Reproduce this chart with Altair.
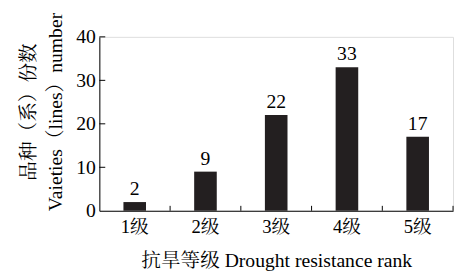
import altair as alt
import pandas as pd

categories = ["1级", "2级", "3级", "4级", "5级"]
counts = [2, 9, 22, 33, 17]
y_ticks = [0, 10, 20, 30, 40]

FONT = "Times New Roman, Liberation Serif, Noto Serif CJK SC, Noto Sans CJK SC, serif"

df = pd.DataFrame({"rank": categories, "n": counts})
tick_df = pd.DataFrame({"rank": categories[:4], "n": y_ticks[1:]})

xscale = alt.Scale(domain=categories, paddingInner=0, paddingOuter=0)
yscale = alt.Scale(domain=[0, 40])

xaxis = alt.Axis(title="抗旱等级 Drought resistance rank", labelAngle=0,
                 ticks=False, tickSize=0, labelPadding=7,
                 labelFontSize=19, titleFontSize=20,
                 titleY=51, titleBaseline="middle",
                 domainColor="black", labelColor="black", titleColor="black",
                 titleFontWeight="normal", labelFont=FONT, titleFont=FONT)
yaxis = alt.Axis(title=["品种（系）份数", "Vaieties（lines）number"],
                 values=y_ticks, ticks=False, tickSize=0, labelPadding=4,
                 grid=False, labelFontSize=20, titleFontSize=20,
                 titleLineHeight=27, titleX=-82, titleY=76,
                 titleBaseline="top", titleAngle=-90, titleAlign="center",
                 domainColor="black", labelColor="black", titleColor="black",
                 titleFontWeight="normal", labelFont=FONT, titleFont=FONT)

X = alt.X("rank:N", scale=xscale, sort=categories, axis=xaxis)
Y = alt.Y("n:Q", scale=yscale, axis=yaxis)

bars = alt.Chart(df).mark_bar(size=23, color="#231f20").encode(x=X, y=Y)

labels = alt.Chart(df).mark_text(baseline="bottom", dy=-3, fontSize=20, font=FONT,
                                 color="black").encode(x=X, y=Y, text="n:Q")

yticks = alt.Chart(tick_df).mark_rule(color="black", strokeWidth=1).encode(
    y=Y, x=alt.value(0), x2=alt.value(6),
)

xticks = alt.Chart(df).mark_rule(color="black", strokeWidth=1).encode(
    x=alt.X("rank:N", scale=xscale, sort=categories, axis=xaxis, bandPosition=1),
    y=alt.value(177), y2=alt.value(172),
)

chart = alt.layer(bars, labels, yticks, xticks).properties(
    width=360, height=177,
    autosize=alt.AutoSizeParams(type="none"),
    padding={"left": 93, "top": 27, "right": 2, "bottom": 63},
).configure_view(stroke=None).configure(background="white")

chart.save("out.html", embed_options={"renderer": "svg", "actions": False})
